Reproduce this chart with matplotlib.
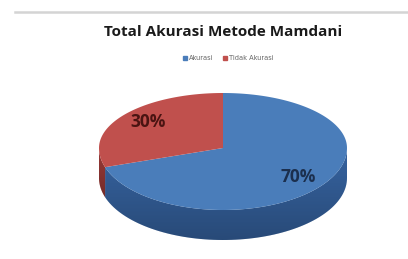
import numpy as np
import matplotlib
matplotlib.use('Agg')
from matplotlib import pyplot as plt
from matplotlib.patches import Polygon
from matplotlib.lines import Line2D
from matplotlib.colors import LinearSegmentedColormap

# data
labels = ['Akurasi', 'Tidak Akurasi']
values = [70, 30]
pct_text = ['70%', '30%']
top_colors = ['#4A7DBA', '#C0504D']
side_colors = ['#3663A0', '#9A3A37']
text_colors = ['#1B2F4E', '#4A1412']

# layout of the 3d pie (pixel units), far half drawn a bit flatter
cx, cy = 223, 148
rx = 124
ry_far, ry_near = 55, 62
depth = 30

fig = plt.figure(figsize=(4.08, 2.59), dpi=100)
ax = fig.add_axes([0, 0, 1, 1])
ax.set_xlim(0, 408)
ax.set_ylim(259, 0)
ax.axis('off')

# grey rule on top of the picture
fig.add_artist(Line2D([15 / 408, 1], [1 - 12 / 259, 1 - 12 / 259],
                      color='#d4d4d4', lw=1.8))


def ell(t):
    # angle in degrees, counterclockwise, screen y goes down
    t = np.radians(t)
    s = np.sin(t)
    ry = np.where(s > 0, ry_far, ry_near)
    return cx + rx * np.cos(t), cy - ry * s


# slice angles: start at 12 o'clock, go clockwise
fracs = np.array(values) / sum(values)
ends = 90 - 360 * np.cumsum(fracs)
starts = np.concatenate([[90], ends[:-1]])

shade = LinearSegmentedColormap.from_list('g', ['#00000000', '#00000040'])

# sides (front half only: angles 180..360)
for i in range(len(values)):
    a1, a2 = ends[i], starts[i]
    for k in (-360, 0, 360):
        lo = max(a1 + k, 180)
        hi = min(a2 + k, 360)
        if hi <= lo:
            continue
        t = np.linspace(lo, hi, 80)
        x, y = ell(t)
        pts = np.column_stack([np.concatenate([x, x[::-1]]),
                               np.concatenate([y, y[::-1] + depth])])
        poly = Polygon(pts, closed=True, facecolor=side_colors[i],
                       edgecolor='none', zorder=1)
        ax.add_patch(poly)
        # darker toward the bottom
        grad = np.linspace(0, 1, 50).reshape(-1, 1)
        im = ax.imshow(grad, extent=[x.min(), x.max(), y.max() + depth, y.min()],
                       cmap=shade, aspect='auto', zorder=2,
                       interpolation='bilinear')
        im.set_clip_path(poly)

# top faces
for i in range(len(values)):
    t = np.linspace(ends[i], starts[i], 200)
    x, y = ell(t)
    pts = np.column_stack([np.concatenate([[cx], x]), np.concatenate([[cy], y])])
    ax.add_patch(Polygon(pts, closed=True, facecolor=top_colors[i],
                         edgecolor='none', zorder=3))

# percent labels
mids = (starts + ends) / 2
for i in range(len(values)):
    lx, ly = ell(mids[i])
    lx = cx + 0.75 * (lx - cx)
    ly = cy + 0.8 * (ly - cy)
    ax.text(lx, ly, pct_text[i], color=text_colors[i], fontsize=12.5,
            fontweight='bold', ha='center', va='center', zorder=5,
            family='Open Sans')

# title
ax.text(223, 32, 'Total Akurasi Metode Mamdani', fontsize=11, fontweight='bold',
        ha='center', va='center', color='#1a1a1a', family='Open Sans')

# legend
handles = [Line2D([], [], marker='s', ls='none', color=c, markersize=2.8)
           for c in top_colors]
fig.legend(handles, labels, loc='center', bbox_to_anchor=(228 / 408, 1 - 58 / 259),
           ncol=2, frameon=False, fontsize=4.8, handletextpad=0.2,
           columnspacing=1.4, labelcolor='#666666', handlelength=0.8)

fig.savefig('out.png', dpi=100)
